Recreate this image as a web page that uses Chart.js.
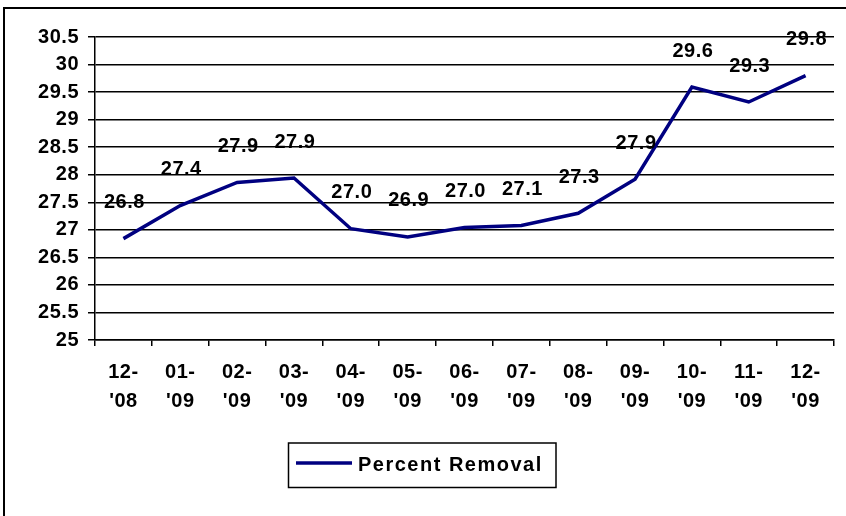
<!DOCTYPE html>
<html>
<head>
<meta charset="utf-8">
<script src="https://cdn.jsdelivr.net/npm/chart.js@4.4.1/dist/chart.umd.min.js"></script>
<style>
  html, body { margin: 0; padding: 0; background: #fff; width: 846px; height: 516px; overflow: hidden; }
  #frame { position: absolute; left: 3px; top: 7px; width: 843px; height: 509px; border-left: 2px solid #000; border-top: 2px solid #000; box-sizing: border-box; }
  #wrap { position: absolute; left: 0; top: 0; width: 841px; height: 507px; }
</style>
</head>
<body>
<div id="frame"><div id="wrap"><canvas id="c"></canvas></div></div>
<script>
const categories = [["12-","'08"],["01-","'09"],["02-","'09"],["03-","'09"],["04-","'09"],["05-","'09"],["06-","'09"],["07-","'09"],["08-","'09"],["09-","'09"],["10-","'09"],["11-","'09"],["12-","'09"]];
const percentRemoval = [26.84, 27.44, 27.86, 27.94, 27.02, 26.87, 27.04, 27.08, 27.30, 27.92, 29.59, 29.32, 29.80];
const seriesName = "Percent Removal";
const yMin = 25, yMax = 30.5, yStep = 0.5;

const FONT = "'Liberation Sans', Arial, sans-serif";

const spacingPlugin = {
  id: 'spacing',
  beforeUpdate(chart) { chart.ctx.letterSpacing = '0.5px'; },
  beforeDraw(chart) { chart.ctx.letterSpacing = '0.5px'; }
};

const labelPlugin = {
  id: 'valueLabels',
  afterDatasetsDraw(chart) {
    const ctx = chart.ctx;
    const meta = chart.getDatasetMeta(0);
    ctx.save();
    ctx.letterSpacing = '0.5px';
    ctx.font = "bold 20px " + FONT;
    ctx.fillStyle = '#000';
    ctx.textAlign = 'center';
    ctx.textBaseline = 'middle';
    meta.data.forEach((pt, i) => {
      ctx.fillText(percentRemoval[i].toFixed(1), pt.x + 1, pt.y - 36);
    });
    ctx.restore();
  }
};

const legendPlugin = {
  id: 'boxLegend',
  afterDraw(chart) {
    const ctx = chart.ctx;
    ctx.save();
    ctx.strokeStyle = '#000';
    ctx.lineWidth = 1.5;
    ctx.strokeRect(283.5, 434, 267.5, 44.5);
    ctx.strokeStyle = '#000080';
    ctx.lineWidth = 3.5;
    ctx.beginPath();
    ctx.moveTo(291, 454);
    ctx.lineTo(347, 454);
    ctx.stroke();
    ctx.letterSpacing = '1.5px';
    ctx.font = "bold 20px " + FONT;
    ctx.fillStyle = '#000';
    ctx.textAlign = 'left';
    ctx.textBaseline = 'alphabetic';
    ctx.fillText(seriesName, 353, 462);
    ctx.restore();
  }
};

new Chart(document.getElementById('c'), {
  type: 'line',
  data: {
    labels: categories,
    datasets: [{
      label: seriesName,
      data: percentRemoval,
      borderColor: '#000080',
      borderWidth: 3.5,
      pointRadius: 0,
      pointHoverRadius: 0,
      tension: 0,
      fill: false
    }]
  },
  options: {
    responsive: true,
    maintainAspectRatio: false,
    animation: false,
    events: [],
    layout: { padding: { left: 0, top: 28, right: 12, bottom: 76 } },
    plugins: { legend: { display: false }, tooltip: { enabled: false } },
    scales: {
      x: {
        type: 'category',
        offset: true,
        grid: { offset: true, drawOnChartArea: false, drawTicks: true, tickLength: 6, color: '#000', lineWidth: 1.5 },
        border: { display: true, color: '#000', width: 1.5 },
        ticks: { color: '#000', font: { family: FONT, size: 20, weight: 'bold', lineHeight: 1.45 }, padding: 12, maxRotation: 0, autoSkip: false },
        afterFit(scale) { scale.height = 100; }
      },
      y: {
        min: yMin,
        max: yMax,
        ticks: { stepSize: yStep, color: '#000', font: { family: FONT, size: 20, weight: 'bold' }, padding: 9,
                 callback: (v) => String(Math.round(v * 10) / 10) },
        grid: { color: '#000', lineWidth: 1.5, tickLength: 7, drawTicks: true },
        border: { display: true, color: '#000', width: 1.5 },
        afterFit(scale) { scale.width = 90; }
      }
    }
  },
  plugins: [spacingPlugin, labelPlugin, legendPlugin]
});
</script>
</body>
</html>
